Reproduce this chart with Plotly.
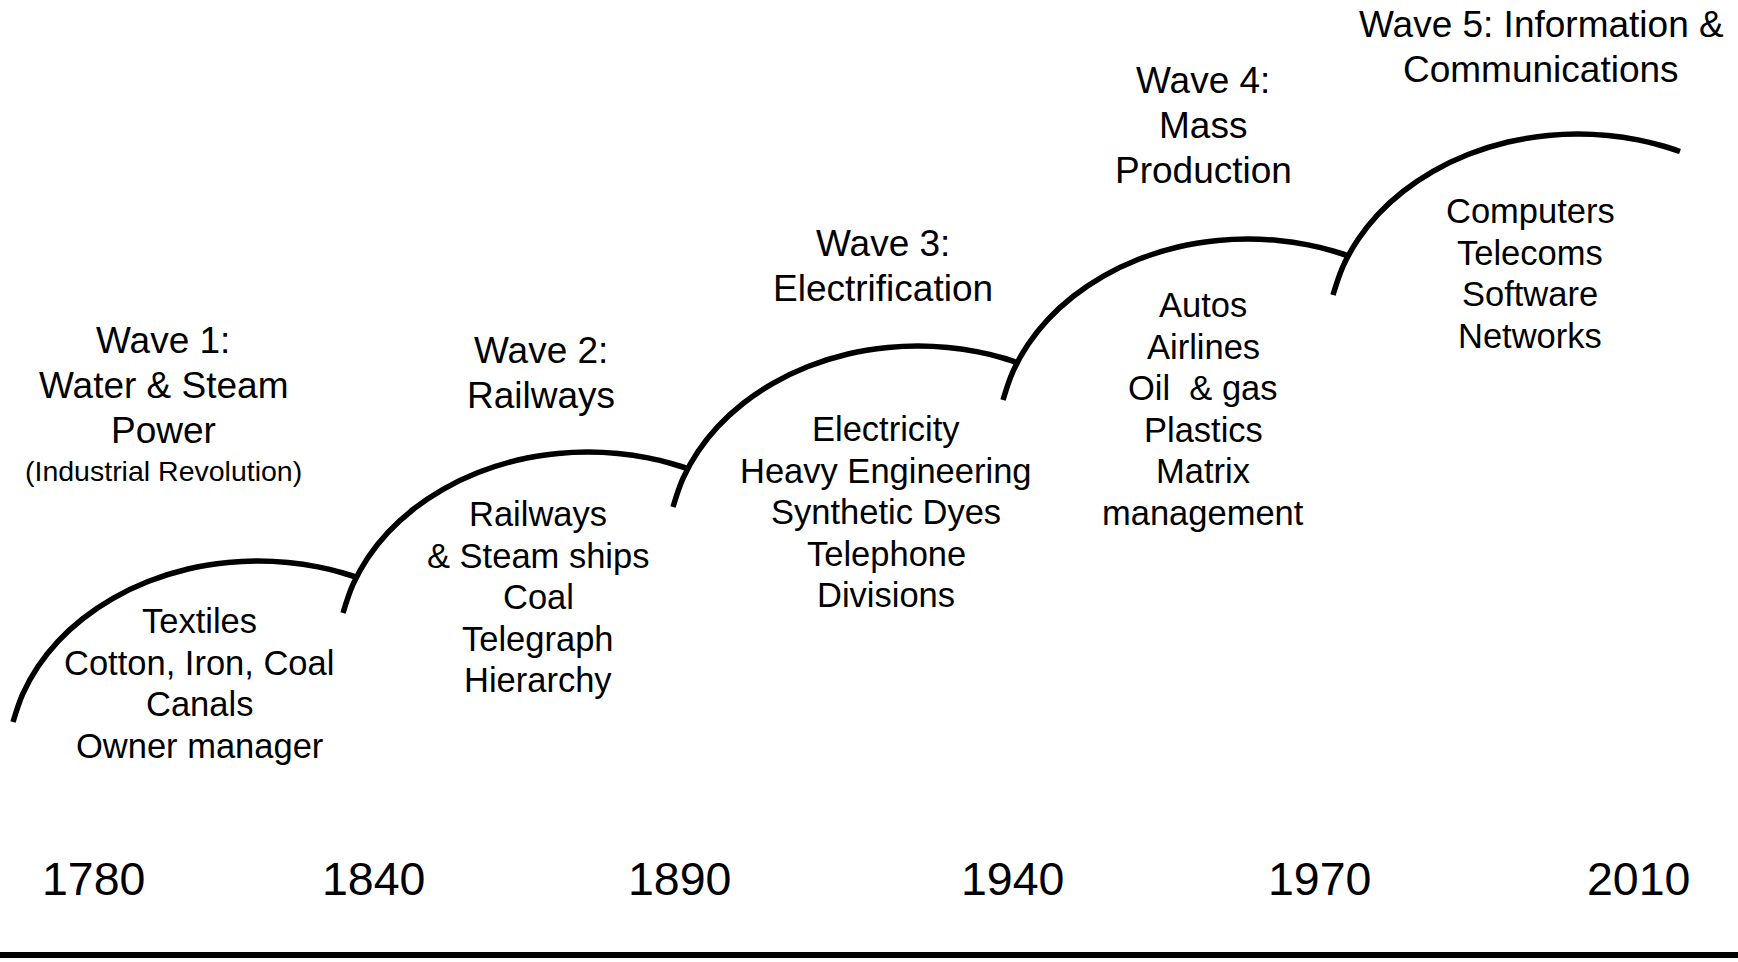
import plotly.graph_objects as go

W, H = 1738, 962
FONT = "Liberation Sans, Arial, sans-serif"

# ---- text content ----
years = ["1780", "1840", "1890", "1940", "1970", "2010"]
wave_titles = [
    ["Wave 1:", "Water & Steam", "Power"],
    ["Wave 2:", "Railways"],
    ["Wave 3:", "Electrification"],
    ["Wave 4:", "Mass", "Production"],
    ["Wave 5: Information &", "Communications"],
]
wave1_note = "(Industrial Revolution)"
wave_items = [
    ["Textiles", "Cotton, Iron, Coal", "Canals", "Owner manager"],
    ["Railways", "& Steam ships", "Coal", "Telegraph", "Hierarchy"],
    ["Electricity", "Heavy Engineering", "Synthetic Dyes", "Telephone", "Divisions"],
    ["Autos", "Airlines", "Oil\u00a0 & gas", "Plastics", "Matrix", "management"],
    ["Computers", "Telecoms", "Software", "Networks"],
]

# ---- wave curves: points (pixel space, y down) ----
arc1_x = [13, 23, 38, 58, 83, 113, 148, 188, 228, 258, 288, 318, 343, 358]
arc1_y = [722, 693.4, 666.5, 641.4, 618.5, 598.3, 581.5, 569, 562.5, 561,
          562.5, 566.9, 573.0, 577.8]
arc2_x = [343, 353, 368, 388, 413, 443, 478, 518, 558, 588, 618, 648, 673, 688]
arc2_y = [613, 584.4, 557.5, 532.4, 509.5, 489.3, 472.5, 460, 453.5, 452,
          453.5, 457.9, 464.0, 468.8]
arc3_x = [673, 683, 698, 718, 743, 773, 808, 848, 888, 918, 948, 978, 1003, 1018]
arc3_y = [507, 478.4, 451.5, 426.4, 403.5, 383.3, 366.5, 354, 347.5, 346,
          347.5, 351.9, 358.0, 362.8]
arc4_x = [1003, 1013, 1028, 1048, 1073, 1103, 1138, 1178, 1218, 1248, 1278, 1308, 1333, 1348]
arc4_y = [400, 371.4, 344.5, 319.4, 296.5, 276.3, 259.5, 247, 240.5, 239,
          240.5, 244.9, 251.0, 255.8]
arc5_x = [1333, 1343, 1358, 1378, 1403, 1433, 1468, 1508, 1548, 1578, 1608, 1638, 1663, 1680]
arc5_y = [295, 266.4, 239.5, 214.4, 191.5, 171.3, 154.5, 142, 135.5, 134,
          135.5, 139.9, 146.0, 151.5]

# ---- layout positions ----
year_x = [93, 373, 679, 1012, 1319, 1638]
year_y = 879
title_x = [163, 541, 883, 1203, 1541]
title_y0 = [340, 350, 243, 80, 24]
title_gap = 45.3
note_pos = (163, 471)
item_x = [199, 538, 886, 1203, 1530]
item_y0 = [621, 514, 429, 305, 211]
item_gap = 41.5

fig = go.Figure()

for xs, ys in [(arc1_x, arc1_y), (arc2_x, arc2_y), (arc3_x, arc3_y),
               (arc4_x, arc4_y), (arc5_x, arc5_y)]:
    fig.add_trace(go.Scatter(
        x=xs, y=ys, mode="lines",
        line=dict(color="black", width=5.5, shape="spline", smoothing=1),
        hoverinfo="skip", showlegend=False))

for i, lines in enumerate(wave_titles):
    for j, line in enumerate(lines):
        fig.add_annotation(x=title_x[i], y=title_y0[i] + j * title_gap, text=line,
                           showarrow=False, xanchor="center", yanchor="middle",
                           font=dict(family=FONT, size=37, color="black"))

fig.add_annotation(x=note_pos[0], y=note_pos[1], text=wave1_note, showarrow=False,
                   xanchor="center", yanchor="middle",
                   font=dict(family=FONT, size=28.5, color="black"))

for i, lines in enumerate(wave_items):
    for j, line in enumerate(lines):
        fig.add_annotation(x=item_x[i], y=item_y0[i] + j * item_gap, text=line,
                           showarrow=False, xanchor="center", yanchor="middle",
                           font=dict(family=FONT, size=34.5, color="black"))

for yx, yl in zip(year_x, years):
    fig.add_annotation(x=yx, y=year_y, text=yl, showarrow=False,
                       xanchor="center", yanchor="middle",
                       font=dict(family=FONT, size=46.5, color="black"))

fig.add_shape(type="line", xref="paper", x0=0, x1=1, yref="y", y0=955, y1=955,
              line=dict(color="black", width=6))

fig.update_layout(
    width=W, height=H, margin=dict(l=0, r=0, t=0, b=0),
    paper_bgcolor="white", plot_bgcolor="white",
    xaxis=dict(range=[0, W], visible=False, fixedrange=True),
    yaxis=dict(range=[H, 0], visible=False, fixedrange=True),
    showlegend=False,
)

fig.write_html("out.html", config={"displayModeBar": False},
               post_script="document.body.style.margin='0';")
